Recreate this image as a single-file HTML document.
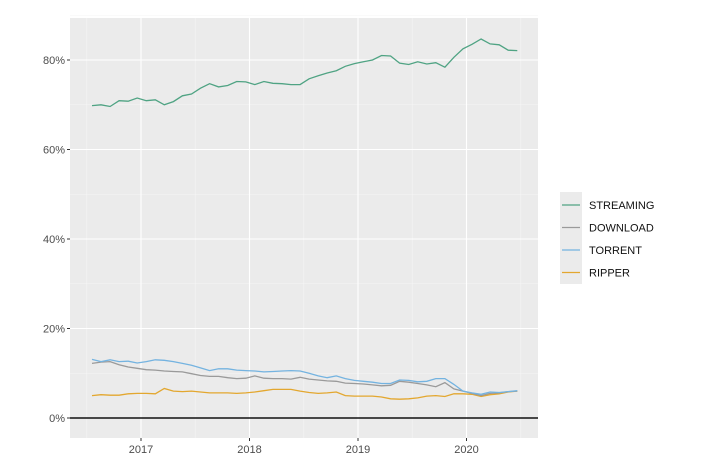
<!DOCTYPE html>
<html><head><meta charset="utf-8"><style>
body{margin:0;background:#fff;font-family:"Liberation Sans",sans-serif;}
svg{display:block}
</style></head><body>
<svg id="c" width="709" height="469" xmlns="http://www.w3.org/2000/svg"></svg>
<script>
const months = 48; // Jul 2016 .. Jun 2020
const seriesNames = ["STREAMING","DOWNLOAD","TORRENT","RIPPER"];
const streaming = [69.8,70.0,69.6,70.9,70.8,71.5,70.9,71.1,70.0,70.7,72.0,72.4,73.7,74.7,74.0,74.3,75.2,75.1,74.5,75.2,74.8,74.7,74.5,74.5,75.8,76.5,77.1,77.6,78.6,79.2,79.6,80.0,81.0,80.9,79.3,79.0,79.6,79.1,79.4,78.4,80.6,82.5,83.5,84.7,83.6,83.4,82.2,82.1];
const download = [12.2,12.5,12.6,11.9,11.4,11.1,10.8,10.7,10.5,10.4,10.3,9.9,9.5,9.3,9.3,9.0,8.8,8.9,9.4,8.9,8.8,8.8,8.7,9.1,8.7,8.5,8.3,8.2,7.8,7.7,7.6,7.4,7.2,7.3,8.2,8.0,7.7,7.4,7.0,7.9,6.5,6.0,5.5,5.0,5.5,5.6,5.9,6.0];
const torrent = [13.1,12.6,13.0,12.6,12.7,12.3,12.6,13.0,12.9,12.6,12.2,11.8,11.2,10.6,11.0,11.0,10.7,10.6,10.5,10.3,10.4,10.5,10.6,10.5,10.0,9.4,9.0,9.4,8.8,8.4,8.2,8.0,7.7,7.7,8.5,8.4,8.1,8.2,8.8,8.8,7.5,6.0,5.6,5.3,5.8,5.7,5.9,6.1];
const ripper = [5.0,5.2,5.1,5.1,5.4,5.5,5.5,5.4,6.6,6.0,5.9,6.0,5.8,5.6,5.6,5.6,5.5,5.6,5.8,6.1,6.4,6.4,6.4,6.0,5.7,5.5,5.6,5.8,5.0,4.9,4.9,4.9,4.7,4.3,4.2,4.3,4.5,4.9,5.0,4.8,5.4,5.4,5.3,4.8,5.2,5.4,5.8,6.0];
const yTicks = [0,20,40,60,80];
const xTickYears = [2017,2018,2019,2020];

const colors=["#4fa383","#9a9a9a","#74b3e0","#e3a72f"];
const svg=document.getElementById('c');
const NS="http://www.w3.org/2000/svg";
function mk(t,a,p){const e=document.createElementNS(NS,t);for(const k in a)e.setAttribute(k,a[k]);(p||svg).appendChild(e);return e;}
const L=70,R=538,T=18,B=438;
const startYear=2016.548;
const stepYears=0.0834;
function x(yearFrac){return 141+(yearFrac-2017)*108.5;}
function xm(i){return x(startYear+i*stepYears);}
function y(v){return 418-v*4.475;}
const panel=mk('rect',{x:L,y:T,width:R-L,height:B-T,fill:'#ebebeb'});


for(let v=10;v<=90;v+=20){const g=mk('line',{x1:L,x2:R,y1:y(v),y2:y(v),stroke:'#f5f5f5','stroke-width':0.6});}
for(let yr=2016.5;yr<=2020.5;yr+=1){const g=mk('line',{x1:x(yr),x2:x(yr),y1:T,y2:B,stroke:'#f5f5f5','stroke-width':0.6});}
yTicks.forEach(v=>{
 const g=mk('line',{x1:L,x2:R,y1:y(v),y2:y(v),stroke:'#fff','stroke-width':1.1});
 
 const tk=mk('line',{x1:L-3,x2:L,y1:y(v),y2:y(v),stroke:'#333','stroke-width':1});
 
 const t=mk('text',{x:L-5,y:y(v)+4,'text-anchor':'end','font-size':11,fill:'#4d4d4d'});
 t.textContent=v+'%';
 
});
xTickYears.forEach(yr=>{
 const g=mk('line',{x1:x(yr),x2:x(yr),y1:T,y2:B,stroke:'#fff','stroke-width':1.1});
 
 const tk=mk('line',{x1:x(yr),x2:x(yr),y1:B,y2:B+3,stroke:'#333','stroke-width':1});
 
 const t=mk('text',{x:x(yr),y:B+15,'text-anchor':'middle','font-size':11,fill:'#4d4d4d'});
 t.textContent=yr;
 
});
const zl=mk('line',{x1:L,x2:R,y1:y(0),y2:y(0),stroke:'#111','stroke-width':1.4});

const data=[streaming,download,torrent,ripper];
[3,1,2,0].forEach(s=>{
 const pts=data[s].map((v,i)=>xm(i).toFixed(1)+','+y(v).toFixed(1)).join(' ');
 const p=mk('polyline',{points:pts,fill:'none',stroke:colors[s],'stroke-width':1.3});
 
 
});
const lb=mk('rect',{x:560,y:192,width:22,height:92,fill:'#ebebeb'});

seriesNames.forEach((n,i)=>{
 const yy=205+i*22.5;
 const k=mk('line',{x1:562,x2:580,y1:yy,y2:yy,stroke:colors[i],'stroke-width':1.3});
 
 const t=mk('text',{x:589,y:yy+4,'font-size':11,fill:'#111'});
 t.textContent=n;
 
});
</script>
</body></html>
